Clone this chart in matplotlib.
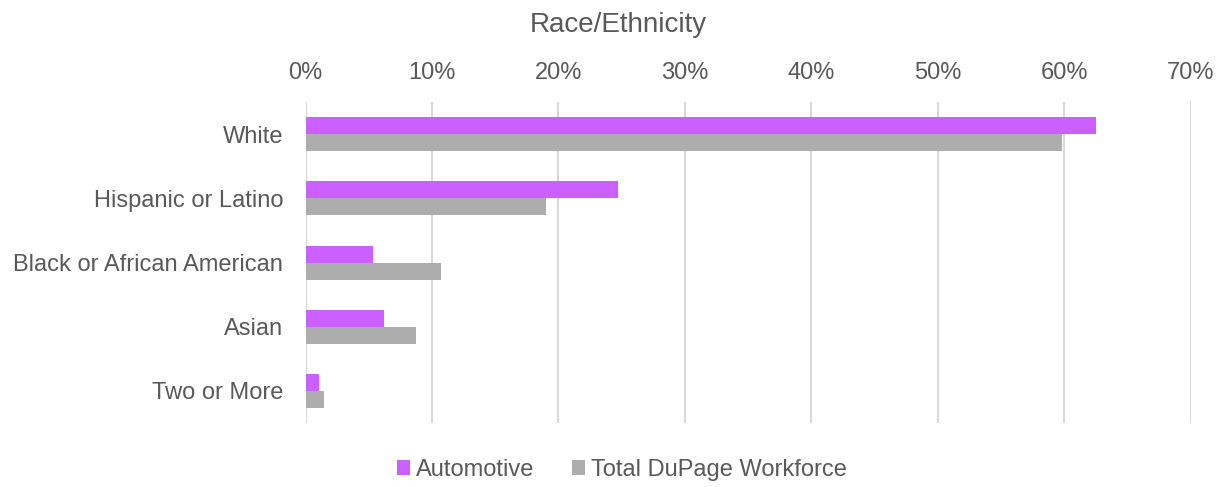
import matplotlib.pyplot as plt
import numpy as np

categories = ["White", "Hispanic or Latino", "Black or African American", "Asian", "Two or More"]
automotive = [0.625, 0.247, 0.053, 0.062, 0.011]
total_dupage = [0.598, 0.190, 0.107, 0.087, 0.015]
series_names = ["Automotive", "Total DuPage Workforce"]
xticks = [0, 0.1, 0.2, 0.3, 0.4, 0.5, 0.6, 0.7]

purple = "#CC5FFF"
grey = "#ADADAD"
text_color = "#595959"

plt.rcParams['font.family'] = ['Liberation Sans', 'DejaVu Sans']

fig = plt.figure(figsize=(12.25, 4.87), dpi=100)
ax = fig.add_axes([0.2494, 0.1314, 0.7228, 0.659])

y = np.arange(len(categories))
h = 0.265
ax.barh(y - h / 2, automotive, height=h, color=purple, label=series_names[0], zorder=3)
ax.barh(y + h / 2, total_dupage, height=h, color=grey, label=series_names[1], zorder=3)

ax.set_xlim(0, 0.7)
ax.set_ylim(len(categories) - 0.5, -0.5)
ax.set_yticks(y)
ax.set_yticklabels(categories, fontsize=17, color=text_color)
ax.xaxis.tick_top()
ax.set_xticks(xticks)
ax.set_xticklabels([f"{int(round(t * 100))}%" for t in xticks], fontsize=17, color=text_color)
ax.tick_params(axis='x', length=0, pad=13)
ax.tick_params(axis='y', length=0, pad=16)
ax.grid(axis='x', color="#D9D9D9", linewidth=1.5, zorder=0)
for s in ax.spines.values():
    s.set_visible(False)

fig.text(0.5045, 0.949, "Race/Ethnicity", ha='center', va='center', fontsize=20, color=text_color)

leg = fig.legend(loc='center', bbox_to_anchor=(0.508, 0.035), ncol=2, frameon=False,
                 fontsize=17, handlelength=0.55, handleheight=0.55, handletextpad=0.25,
                 columnspacing=1.6)
for t in leg.get_texts():
    t.set_color(text_color)

fig.savefig("out.png", dpi=100)
